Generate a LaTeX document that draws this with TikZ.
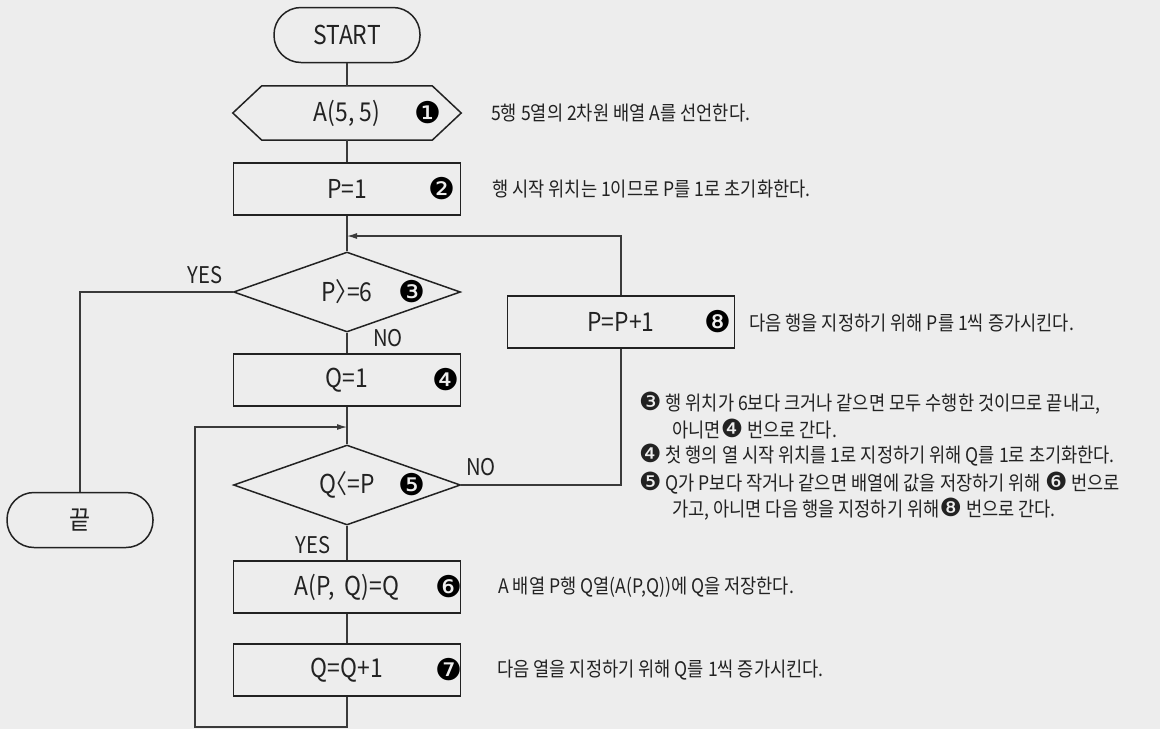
\documentclass[tikz,border=0pt]{standalone}
\usepackage{fontspec}
\setmainfont{Noto Sans CJK KR}[FakeStretch=0.88]
\newfontfamily\dingfont{DejaVu Sans}
\usepackage{tikz}
\usetikzlibrary{arrows.meta, positioning, shapes.geometric, calc}
\definecolor{fondo}{HTML}{EDEDED}
\definecolor{tinta}{HTML}{222222}
\definecolor{gris}{HTML}{3A3A3A}
\newcommand{\cn}[1]{{\fontsize{25}{22}\selectfont\dingfont #1}}
\newcommand{\mayorq}{〉\kern-.45em}
\newcommand{\menorq}{\kern-.45em〈}
\tikzset{
  every picture/.style={x=1pt, y=-1pt, >={Latex[length=10pt, width=6pt]}},
  txt/.style={text=tinta, font=\fontsize{26}{30}\selectfont},
  term/.style={txt, draw=tinta, line width=1.5pt, rounded corners=27pt,
              minimum width=146pt, minimum height=55pt},
  proc/.style={txt, draw=tinta, line width=1.5pt, inner sep=0pt,
              minimum width=227pt, minimum height=52pt},
  deci/.style={txt, draw=tinta, line width=1.5pt, diamond, aspect=2.84, inner sep=0pt,
              minimum width=227pt, minimum height=80pt},
  decl/.style={txt, inner sep=0pt, minimum width=228pt, minimum height=54pt},
  num/.style={text=black, font=\fontsize{30}{30}\selectfont\dingfont, inner sep=0pt},
  yn/.style={text=tinta, font=\fontsize{23}{26}\selectfont, inner sep=0pt},
  nota/.style={text=tinta, font=\fontsize{20}{22}\selectfont, anchor=west, inner sep=0pt},
  linea/.style={draw=gris, line width=1.1pt},
  flecha/.style={linea, ->},
}
\begin{document}
\begin{tikzpicture}
  \fill[fondo] (0,0) rectangle (1160,729);
  \useasboundingbox (0,0) rectangle (1160,729);

  \node[term] (start) at (347,35) {START};
  \node[decl] (arr) at (347,113) {A(5, 5)};
  \draw[tinta, line width=1.5pt] (arr.west) -- ([xshift=29pt]arr.north west) -- ([xshift=-29pt]arr.north east)
    -- (arr.east) -- ([xshift=-29pt]arr.south east) -- ([xshift=29pt]arr.south west) -- cycle;
  \foreach \n/\t/\y in {p1/P=1/189, q1/Q=1/380, aq/{A(P,\ \ Q)=Q}/587, qq/Q=Q+1/670} {
    \node[proc] (\n) at (347,\y) {\t};
  }
  \node[proc] (pp) at (621,322) {P=P+1};
  \node[deci] (d1) at (347,292) {P\mayorq=6};
  \node[deci] (d2) at (347,485) {Q\menorq=P};
  \node[term] (fin) at (80,520) {끝};

  \foreach \i/\s/\x/\y in {1/❶/428/113, 2/❷/442/189, 3/❸/412/292, 4/❹/446/380,
                           5/❺/412/485, 6/❻/449/587, 7/❼/449/670, 8/❽/718/322} {
    \node[num] (c\i) at (\x,\y) {\s};
  }

  \node[nota] (t1) at (491,113) {5행 5열의 2차원 배열 A를 선언한다.};
  \node[nota] (t2) at (492,189) {행 시작 위치는 1이므로 P를 1로 초기화한다.};
  \node[nota] (t8) at (749,323) {다음 행을 지정하기 위해 P를 1씩 증가시킨다.};
  \node[nota] (t6) at (498,587) {A 배열 P행 Q열(A(P,Q))에 Q을 저장한다.};
  \node[nota] (t7) at (497,670) {다음 열을 지정하기 위해 Q를 1씩 증가시킨다.};
  \node[nota] (n3) at (639,403) {\cn{❸} 행 위치가 6보다 크거나 같으면 모두 수행한 것이므로 끝내고,};
  \node[nota] (n3b) at (672,429) {아니면\cn{❹} 번으로 간다.};
  \node[nota] (n4) at (639,455) {\cn{❹} 첫 행의 열 시작 위치를 1로 지정하기 위해 Q를 1로 초기화한다.};
  \node[nota] (n5) at (639,483) {\cn{❺} Q가 P보다 작거나 같으면 배열에 값을 저장하기 위해 \cn{❻} 번으로};
  \node[nota] (n5b) at (672,509) {가고, 아니면 다음 행을 지정하기 위해\cn{❽} 번으로 간다.};

  \coordinate (j1) at (347,236);
  \coordinate (j2) at (347,427);
  \coordinate (lb) at (195,727);
  \draw[linea] (start.south) -- (arr.north);
  \draw[linea] (arr.south) -- (p1.north);
  \draw[linea] (p1.south) -- (d1.north);
  \draw[flecha] (pp.north) |- (j1);
  \draw[linea] (d1.west) -| (fin.north);
  \draw[linea] (d1.south) -- (q1.north);
  \draw[linea] (q1.south) -- (d2.north);
  \draw[flecha] (qq.south) |- (lb) |- (j2);
  \draw[linea] (d2.south) -- (aq.north);
  \draw[linea] (aq.south) -- (qq.north);
  \draw[linea] (d2.east) -| (pp.south);

  \node[yn] (y1) at (205,275) {YES};
  \node[yn] (n1) at (388,338) {NO};
  \node[yn] (n2) at (481,467) {NO};
  \node[yn] (y2) at (313,545) {YES};
\end{tikzpicture}
\end{document}
